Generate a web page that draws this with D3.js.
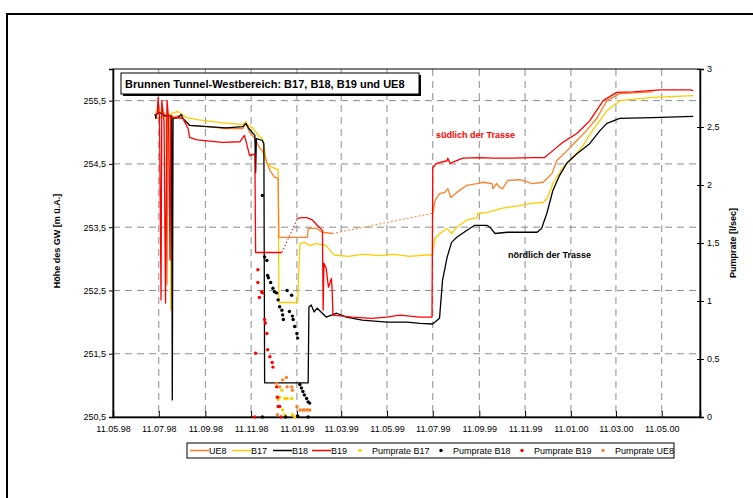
<!DOCTYPE html>
<html lang="de">
<head>
    <meta charset="UTF-8">
    <title>Brunnen Tunnel-Westbereich</title>
    <script src="https://d3js.org/d3.v7.min.js"></script>
    <style>
        body { margin: 0; background: #fff; }
        svg { display: block; }
        text { font-family: "Liberation Sans", Arial, sans-serif; fill: #000; }
        .tick-label { font-size: 9px; }
        .axis-title { font-size: 9px; font-weight: bold; }
        .grid line { stroke: #8c8c8c; stroke-width: 1; stroke-dasharray: 7,5; }
        .legend text { font-size: 9px; }
    </style>
</head>
<body>
<script>
    // x axis tick labels (dd.mm.yy)
    const xTickLabels = ["11.05.98", "11.07.98", "11.09.98", "11.11.98", "11.01.99", "11.03.99",
        "11.05.99", "11.07.99", "11.09.99", "11.11.99", "11.01.00", "11.03.00", "11.05.00"];
    const leftTicks = [250.5, 251.5, 252.5, 253.5, 254.5, 255.5];
    const rightTicks = [0, 0.5, 1, 1.5, 2, 2.5, 3];

    // groundwater level [m ü.A.]
    const ue8 = [
        ["1998-07-06", 255.23], ["1998-07-12", 255.22], ["1998-07-19", 255.30], ["1998-07-21", 255.24],
        ["1998-07-22", 252.60], ["1998-07-23", 255.24], ["1998-07-29", 255.22], ["1998-08-05", 255.26],
        ["1998-08-12", 255.22], ["1998-08-21", 255.11], ["1998-09-15", 255.09], ["1998-10-04", 255.06],
        ["1998-10-31", 255.06], ["1998-11-04", 255.14], ["1998-11-09", 255.00], ["1998-11-16", 254.90],
        ["1998-11-22", 254.76], ["1998-11-26", 254.71], ["1998-12-06", 254.40], ["1998-12-12", 254.29],
        ["1998-12-17", 254.27], ["1998-12-18", 253.34], ["1999-01-25", 253.34], ["1999-01-26", 253.48],
        ["1999-02-06", 253.48], ["1999-02-14", 253.42], ["1999-02-27", 253.40]
    ];
    const ue8Gap = [["1999-02-27", 253.40], ["1999-07-11", 253.72]];
    const ue8b = [
        ["1999-07-11", 253.72], ["1999-07-14", 253.92], ["1999-07-20", 254.03], ["1999-07-27", 254.05],
        ["1999-07-31", 254.11], ["1999-08-04", 253.97], ["1999-08-12", 254.05], ["1999-08-25", 254.16],
        ["1999-09-08", 254.19], ["1999-09-16", 254.21], ["1999-09-28", 254.19], ["1999-09-29", 254.11],
        ["1999-10-04", 254.19], ["1999-10-08", 254.13], ["1999-10-12", 254.11], ["1999-10-19", 254.24],
        ["1999-11-04", 254.25], ["1999-11-21", 254.19], ["1999-12-05", 254.21], ["1999-12-17", 254.35],
        ["1999-12-23", 254.55], ["2000-01-06", 254.71], ["2000-01-19", 254.87], ["2000-02-01", 255.03],
        ["2000-02-15", 255.23], ["2000-02-28", 255.50], ["2000-03-16", 255.61], ["2000-04-29", 255.64]
    ];
    const b17 = [
        ["1998-07-06", 255.31], ["1998-07-12", 255.37], ["1998-07-19", 255.26], ["1998-07-26", 255.29],
        ["1998-07-27", 252.19], ["1998-07-28", 255.29], ["1998-08-05", 255.33], ["1998-08-10", 255.29],
        ["1998-08-17", 255.23], ["1998-08-31", 255.20], ["1998-10-04", 255.15], ["1998-10-31", 255.12],
        ["1998-11-04", 255.17], ["1998-11-06", 255.12], ["1998-11-13", 255.07], ["1998-11-22", 254.93],
        ["1998-11-26", 254.90], ["1998-12-02", 254.51], ["1998-12-10", 254.44], ["1998-12-17", 254.41],
        ["1998-12-18", 252.31], ["1999-01-12", 252.31], ["1999-01-15", 253.24], ["1999-01-21", 253.26],
        ["1999-01-28", 253.21], ["1999-02-06", 253.24], ["1999-02-19", 253.21], ["1999-02-27", 253.09],
        ["1999-03-02", 253.06], ["1999-03-20", 253.04], ["1999-04-10", 253.07], ["1999-05-01", 253.05],
        ["1999-05-20", 253.07], ["1999-06-10", 253.04], ["1999-07-01", 253.06], ["1999-07-10", 253.06],
        ["1999-07-14", 253.32], ["1999-07-20", 253.40], ["1999-07-30", 253.48], ["1999-08-05", 253.40],
        ["1999-08-12", 253.50], ["1999-08-25", 253.61], ["1999-09-08", 253.65], ["1999-09-09", 253.72],
        ["1999-09-21", 253.73], ["1999-10-12", 253.80], ["1999-11-04", 253.84], ["1999-11-21", 253.88],
        ["1999-12-05", 253.89], ["1999-12-11", 253.97], ["1999-12-18", 254.19], ["1999-12-31", 254.44],
        ["2000-01-14", 254.60], ["2000-01-27", 254.79], ["2000-02-09", 255.03], ["2000-02-28", 255.34],
        ["2000-03-16", 255.50], ["2000-04-29", 255.55], ["2000-06-22", 255.58]
    ];
    const b18 = [
        ["1998-07-06", 255.29], ["1998-07-07", 255.22], ["1998-07-08", 255.29], ["1998-07-12", 255.31],
        ["1998-07-19", 255.26], ["1998-07-28", 255.26], ["1998-07-29", 250.77], ["1998-07-30", 255.22],
        ["1998-08-05", 255.23], ["1998-08-10", 255.28], ["1998-08-12", 255.22], ["1998-08-21", 255.11],
        ["1998-09-13", 255.09], ["1998-10-09", 255.07], ["1998-10-31", 255.09], ["1998-11-04", 255.14],
        ["1998-11-08", 255.06], ["1998-11-16", 254.95], ["1998-11-17", 254.36], ["1998-11-18", 254.90],
        ["1998-11-26", 254.87], ["1998-11-28", 254.82], ["1998-11-29", 251.04], ["1999-01-26", 251.04],
        ["1999-01-27", 252.24], ["1999-01-30", 252.27], ["1999-02-03", 252.16], ["1999-02-07", 252.22],
        ["1999-02-19", 252.08], ["1999-03-05", 252.14], ["1999-03-18", 252.08], ["1999-04-08", 252.03],
        ["1999-05-11", 252.00], ["1999-06-07", 252.00], ["1999-06-24", 251.98], ["1999-07-11", 251.97],
        ["1999-07-14", 252.00], ["1999-07-20", 252.06], ["1999-07-24", 252.66], ["1999-07-30", 253.02],
        ["1999-08-05", 253.26], ["1999-08-12", 253.34], ["1999-08-29", 253.48], ["1999-09-05", 253.53],
        ["1999-09-21", 253.53], ["1999-09-25", 253.50], ["1999-10-02", 253.40], ["1999-10-18", 253.42],
        ["1999-11-27", 253.42], ["1999-12-03", 253.48], ["1999-12-10", 253.72], ["1999-12-18", 254.08],
        ["1999-12-27", 254.32], ["2000-01-06", 254.52], ["2000-01-19", 254.66], ["2000-02-05", 254.82],
        ["2000-02-19", 255.03], ["2000-02-28", 255.14], ["2000-03-16", 255.22], ["2000-04-29", 255.23],
        ["2000-06-22", 255.25]
    ];
    const b19 = [
        ["1998-07-06", 255.26], ["1998-07-09", 255.29], ["1998-07-10", 255.55], ["1998-07-12", 255.22],
        ["1998-07-14", 252.35], ["1998-07-15", 255.50], ["1998-07-18", 255.18], ["1998-07-20", 252.30],
        ["1998-07-22", 255.50], ["1998-07-24", 255.22], ["1998-07-26", 252.98], ["1998-07-27", 255.26],
        ["1998-08-01", 255.23], ["1998-08-12", 255.22], ["1998-08-19", 255.06], ["1998-08-21", 254.92],
        ["1998-08-31", 254.88], ["1998-10-04", 254.84], ["1998-10-27", 254.85], ["1998-11-02", 254.95],
        ["1998-11-05", 254.82], ["1998-11-09", 254.63], ["1998-11-16", 254.66], ["1998-11-17", 253.10],
        ["1998-12-22", 253.10]
    ];
    const b19Gap = [["1998-12-22", 253.10], ["1999-01-12", 253.64]];
    const b19b = [
        ["1999-01-12", 253.64], ["1999-01-17", 253.65], ["1999-01-24", 253.65], ["1999-02-01", 253.61],
        ["1999-02-07", 253.53], ["1999-02-14", 253.45], ["1999-02-15", 252.19], ["1999-02-16", 252.93],
        ["1999-02-19", 252.85], ["1999-02-22", 252.55], ["1999-02-26", 252.69], ["1999-02-27", 252.50],
        ["1999-02-28", 252.11], ["1999-03-26", 252.08], ["1999-04-20", 252.06], ["1999-05-11", 252.08],
        ["1999-05-28", 252.11], ["1999-06-24", 252.08], ["1999-07-10", 252.08], ["1999-07-11", 254.44],
        ["1999-07-16", 254.51], ["1999-07-30", 254.55], ["1999-07-31", 254.59], ["1999-08-03", 254.51],
        ["1999-08-20", 254.59], ["1999-09-12", 254.60], ["1999-09-29", 254.59], ["1999-10-26", 254.59],
        ["1999-11-21", 254.60], ["1999-12-07", 254.60], ["1999-12-18", 254.71], ["1999-12-31", 254.84],
        ["2000-01-19", 254.98], ["2000-02-05", 255.18], ["2000-02-23", 255.50], ["2000-03-12", 255.63],
        ["2000-04-03", 255.64], ["2000-05-09", 255.67], ["2000-06-18", 255.67], ["2000-06-22", 255.66]
    ];

    // pump rates [l/sec]
    const pumpB17 = [
        ["1998-12-17", 0.15], ["1998-12-19", 0.17], ["1998-12-22", 0.23], ["1998-12-26", 0.16],
        ["1998-12-29", 0.16], ["1999-01-04", 0.16], ["1998-12-23", 0.06], ["1998-12-26", 0.02],
        ["1999-01-05", 0.02], ["1999-01-08", 0.00]
    ];
    const pumpB18 = [
        ["1998-11-26", 1.91], ["1998-11-29", 1.38], ["1998-12-02", 1.35], ["1998-12-03", 1.22],
        ["1998-12-04", 1.20], ["1998-12-07", 1.16], ["1998-12-10", 1.11], ["1998-12-12", 1.08],
        ["1998-12-15", 1.07], ["1998-12-17", 1.01], ["1998-12-19", 0.95], ["1998-12-22", 0.92],
        ["1998-12-23", 0.88], ["1998-12-24", 0.84], ["1998-12-29", 1.09], ["1999-01-04", 1.05],
        ["1999-01-01", 0.91], ["1999-01-05", 0.87], ["1999-01-06", 0.84], ["1999-01-08", 0.78],
        ["1999-01-11", 0.72], ["1999-01-12", 0.68], ["1999-01-15", 0.28], ["1999-01-17", 0.25],
        ["1999-01-19", 0.22], ["1999-01-21", 0.19], ["1999-01-24", 0.16], ["1999-01-26", 0.13],
        ["1999-01-28", 0.12], ["1998-11-26", 0.00], ["1998-12-27", 0.00], ["1999-01-12", 0.01],
        ["1999-01-26", 0.00]
    ];
    const pumpB19 = [
        ["1998-11-16", 0.00], ["1998-11-17", 0.55], ["1998-11-20", 1.27], ["1998-11-20", 1.16],
        ["1998-11-22", 1.03], ["1998-11-25", 1.08], ["1998-11-26", 1.07], ["1998-11-29", 0.84],
        ["1998-11-30", 0.81], ["1998-12-02", 0.72], ["1998-12-03", 0.58], ["1998-12-06", 0.52],
        ["1998-12-09", 0.47], ["1998-12-10", 0.43], ["1998-12-15", 0.26], ["1998-12-16", 0.17],
        ["1998-12-17", 0.09], ["1998-12-19", 0.09], ["1998-12-21", 0.00]
    ];
    const pumpUE8 = [
        ["1998-12-15", 0.29], ["1998-12-19", 0.26], ["1998-12-23", 0.32], ["1998-12-28", 0.34],
        ["1998-12-29", 0.26], ["1999-01-04", 0.26], ["1999-01-05", 0.23], ["1999-01-11", 0.09],
        ["1999-01-15", 0.06], ["1999-01-19", 0.06], ["1999-01-21", 0.06], ["1999-01-25", 0.06],
        ["1999-01-28", 0.06], ["1998-12-16", 0.02]
    ];

    const colors = { ue8: "#ff7f27", b17: "#ffcc00", b18: "#000000", b19: "#ff0000" };

    const W = 753, H = 498;
    const plot = { left: 113, right: 700, top: 69, bottom: 417 };
    const parseDate = d3.timeParse("%Y-%m-%d");
    const parseTick = d3.timeParse("%d.%m.%y");
    const comma = v => String(v).replace(".", ",");

    const svg = d3.select("body").append("svg")
        .attr("width", W)
        .attr("height", H);

    // outer chart frame (runs off the picture on the right and bottom)
    svg.append("rect")
        .attr("x", 7).attr("y", 14)
        .attr("width", 780).attr("height", 520)
        .attr("fill", "none").attr("stroke", "#000").attr("stroke-width", 2);

    const x = d3.scaleTime()
        .domain([new Date(1998, 4, 11), new Date(2000, 6, 1)])
        .range([plot.left, plot.right]);
    const yL = d3.scaleLinear().domain([250.5, 256]).range([plot.bottom, plot.top]);
    const yR = d3.scaleLinear().domain([0, 3]).range([plot.bottom, plot.top]);

    const tickDates = xTickLabels.map(parseTick);

    // grid
    const grid = svg.append("g").attr("class", "grid");
    grid.selectAll(".vg").data(tickDates.slice(1)).enter().append("line")
        .attr("x1", d => x(d)).attr("x2", d => x(d))
        .attr("y1", plot.top).attr("y2", plot.bottom);
    grid.selectAll(".hg").data(leftTicks.slice(1)).enter().append("line")
        .attr("x1", plot.left).attr("x2", plot.right)
        .attr("y1", d => yL(d)).attr("y2", d => yL(d));

    // plot frame
    svg.append("rect")
        .attr("x", plot.left).attr("y", plot.top)
        .attr("width", plot.right - plot.left).attr("height", plot.bottom - plot.top)
        .attr("fill", "none").attr("stroke", "#000").attr("stroke-width", 1);

    // left axis
    const gL = svg.append("g").attr("transform", `translate(${plot.left},0)`)
        .call(d3.axisLeft(yL).tickValues(leftTicks).tickSize(4).tickFormat(comma));
    // right axis
    const gR = svg.append("g").attr("transform", `translate(${plot.right},0)`)
        .call(d3.axisRight(yR).tickValues(rightTicks).tickSize(4).tickFormat(comma));
    gR.selectAll(".tick line").attr("x1", -3);
    // bottom axis, ticks pointing into the plot
    const gB = svg.append("g").attr("transform", `translate(0,${plot.bottom})`)
        .call(d3.axisBottom(x).tickValues(tickDates).tickSize(-6).tickPadding(9)
            .tickFormat((d, i) => xTickLabels[i]));

    [gL, gR, gB].forEach(g => {
        g.select(".domain").attr("stroke", "#000").attr("stroke-width", 1.5);
        g.selectAll(".tick line").attr("stroke", "#000");
        g.selectAll(".tick text").attr("class", "tick-label")
            .style("font-family", "'Liberation Sans', Arial, sans-serif").style("font-size", "9px");
    });
    gR.selectAll(".tick text").attr("x", 7);

    // axis titles
    svg.append("text").attr("class", "axis-title")
        .attr("transform", `translate(60,${(plot.top + plot.bottom) / 2 - 2}) rotate(-90)`)
        .attr("text-anchor", "middle")
        .text("Höhe des GW  [m ü.A.]");
    svg.append("text").attr("class", "axis-title")
        .attr("transform", `translate(736,${(plot.top + plot.bottom) / 2}) rotate(-90)`)
        .attr("text-anchor", "middle")
        .text("Pumprate [l/sec]");

    // level lines
    const line = d3.line().x(d => x(parseDate(d[0]))).y(d => yL(d[1]));
    const drawLine = (data, color, dash) => svg.append("path")
        .datum(data)
        .attr("d", line)
        .attr("fill", "none")
        .attr("stroke", color)
        .attr("stroke-width", dash ? 1 : 1.3)
        .attr("stroke-dasharray", dash || null)
        .attr("stroke-linejoin", "round");

    drawLine(b17, colors.b17);
    drawLine(ue8, colors.ue8);
    drawLine(ue8Gap, colors.ue8, "2,2");
    drawLine(ue8b, colors.ue8);
    drawLine(b18, colors.b18);
    drawLine(b19, colors.b19);
    drawLine(b19Gap, colors.b19, "1.5,2");
    drawLine(b19b, colors.b19);

    // pump rate dots
    const drawDots = (data, color) => svg.append("g").selectAll("circle")
        .data(data).enter().append("circle")
        .attr("cx", d => x(parseDate(d[0])))
        .attr("cy", d => yR(d[1]))
        .attr("r", 1.7)
        .attr("fill", color);
    drawDots(pumpB17, colors.b17);
    drawDots(pumpB18, colors.b18);
    drawDots(pumpB19, colors.b19);
    drawDots(pumpUE8, colors.ue8);

    // annotations
    svg.append("text").attr("x", 436).attr("y", 138)
        .style("font-size", "9px").style("font-weight", "bold").style("fill", "#ff0000")
        .text("südlich der Trasse");
    svg.append("text").attr("x", 508).attr("y", 258)
        .style("font-size", "9px").style("font-weight", "bold")
        .text("nördlich der Trasse");

    // title box with shadow
    const tb = svg.append("g");
    tb.append("rect").attr("x", 123).attr("y", 75).attr("width", 298).attr("height", 21).attr("fill", "#000");
    tb.append("rect").attr("x", 121).attr("y", 73).attr("width", 298).attr("height", 21)
        .attr("fill", "#fff").attr("stroke", "#000").attr("stroke-width", 1);
    tb.append("text").attr("x", 125).attr("y", 88)
        .style("font-size", "11px").style("font-weight", "bold")
        .text("Brunnen Tunnel-Westbereich: B17, B18, B19 und UE8");

    // legend
    const legend = svg.append("g").attr("class", "legend");
    legend.append("rect").attr("x", 187).attr("y", 443).attr("width", 487).attr("height", 15)
        .attr("fill", "#fff").attr("stroke", "#000").attr("stroke-width", 1);
    const legendItems = [
        { label: "UE8", color: colors.ue8, kind: "line", x: 190 },
        { label: "B17", color: colors.b17, kind: "line", x: 232 },
        { label: "B18", color: colors.b18, kind: "line", x: 273 },
        { label: "B19", color: colors.b19, kind: "line", x: 312 },
        { label: "Pumprate B17", color: colors.b17, kind: "dot", x: 360 },
        { label: "Pumprate B18", color: colors.b18, kind: "dot", x: 441 },
        { label: "Pumprate B19", color: colors.b19, kind: "dot", x: 522 },
        { label: "Pumprate UE8", color: colors.ue8, kind: "dot", x: 603 }
    ];
    legendItems.forEach(it => {
        if (it.kind === "line") {
            legend.append("line").attr("x1", it.x).attr("x2", it.x + 19)
                .attr("y1", 450.5).attr("y2", 450.5)
                .attr("stroke", it.color).attr("stroke-width", 1.5);
            legend.append("text").attr("x", it.x + 19).attr("y", 454).text(it.label);
        } else {
            legend.append("circle").attr("cx", it.x).attr("cy", 450.5).attr("r", 1.7)
                .attr("fill", it.color);
            legend.append("text").attr("x", it.x + 12).attr("y", 454).text(it.label);
        }
    });
</script>
</body>
</html>
